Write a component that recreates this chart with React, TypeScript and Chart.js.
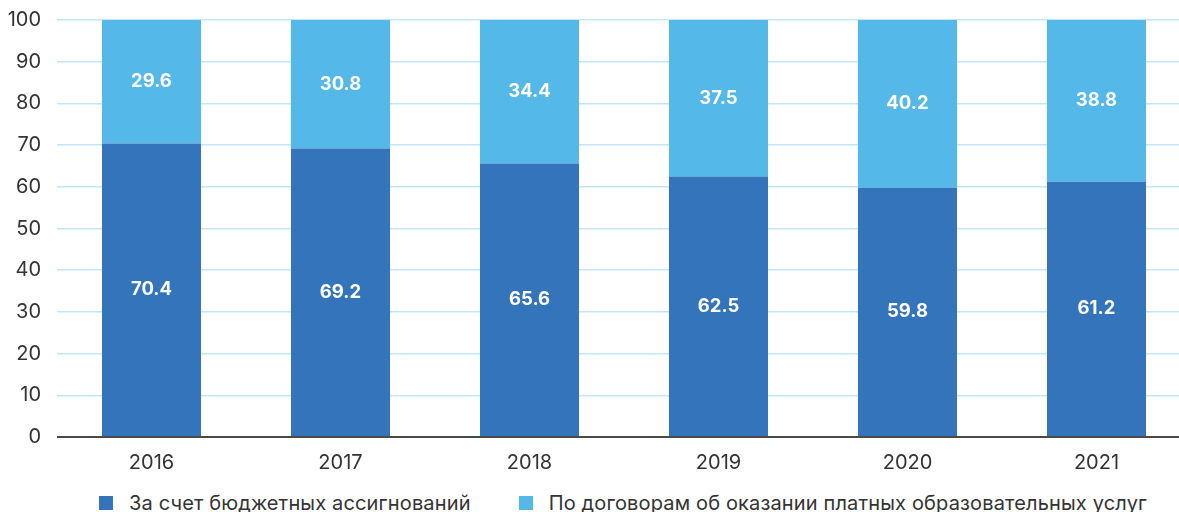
import React, { useEffect, useRef } from "react";
import { Chart, registerables } from "chart.js";

Chart.register(...registerables);

const categories = ["2016", "2017", "2018", "2019", "2020", "2021"];
const budgetValues = [70.4, 69.2, 65.6, 62.5, 59.8, 61.2];
const paidValues = [29.6, 30.8, 34.4, 37.5, 40.2, 38.8];
const seriesNames = [
  "За счет бюджетных ассигнований",
  "По договорам об оказании платных образовательных услуг",
];
const seriesColors = ["#3474BA", "#54B8E8"];

const FONT = "Inter, 'Noto Sans', sans-serif";

const valueLabels = {
  id: "valueLabels",
  afterDatasetsDraw(chart: any) {
    const ctx = chart.ctx;
    ctx.save();
    ctx.fillStyle = "#ffffff";
    ctx.font = `700 18.5px ${FONT}`;
    ctx.textAlign = "center";
    ctx.textBaseline = "middle";
    chart.data.datasets.forEach((ds: any, di: number) => {
      const meta = chart.getDatasetMeta(di);
      meta.data.forEach((el: any, i: number) => {
        const v = ds.data[i];
        const cy = (el.y + el.base) / 2;
        ctx.fillText(v.toFixed(1), el.x, cy);
      });
    });
    ctx.restore();
  },
};

export default function App() {
  const ref = useRef<HTMLCanvasElement>(null);
  useEffect(() => {
    const chart = new Chart(ref.current!, {
      type: "bar",
      data: {
        labels: categories,
        datasets: [
          {
            label: seriesNames[0],
            data: budgetValues,
            backgroundColor: seriesColors[0],
            barPercentage: 0.655,
            categoryPercentage: 0.8,
          },
          {
            label: seriesNames[1],
            data: paidValues,
            backgroundColor: seriesColors[1],
            barPercentage: 0.655,
            categoryPercentage: 0.8,
          },
        ],
      },
      options: {
        animation: false,
        responsive: true,
        maintainAspectRatio: false,
        layout: { padding: { top: 13, left: 0, right: 0, bottom: 0 } },
        plugins: {
          legend: { display: false },
          tooltip: { enabled: false },
        },
        scales: {
          x: {
            stacked: true,
            grid: { display: false, drawTicks: false },
            border: { display: false },
            ticks: {
              color: "#333333",
              font: { family: FONT, size: 20 },
              padding: 14,
            },
          },
          y: {
            stacked: true,
            min: 0,
            max: 100,
            afterFit: (s: any) => {
              s.width = 57;
            },
            ticks: {
              stepSize: 10,
              color: "#333333",
              font: { family: FONT, size: 20 },
              padding: 16,
            },
            border: { display: false },
            grid: {
              drawTicks: false,
              color: (c: any) => (c.tick && c.tick.value === 0 ? "#4a4a4a" : "#c4e6f6"),
              lineWidth: (c: any) => (c.tick && c.tick.value === 0 ? 2 : 1.5),
            },
          },
        },
      },
      plugins: [valueLabels],
    });
    return () => chart.destroy();
  }, []);

  const legendItem = (name: string, color: string) => (
    <div style={{ display: "flex", alignItems: "center" }}>
      <div style={{ width: 14, height: 14, background: color, marginRight: 16 }} />
      <span>{name}</span>
    </div>
  );

  return (
    <div
      style={{
        position: "fixed",
        left: 0,
        top: 0,
        width: 1179,
        height: 512,
        overflow: "hidden",
        background: "#ffffff",
      }}
    >
      <div style={{ position: "absolute", left: 0, top: -8, width: 1191, height: 497 }}>
        <canvas ref={ref} />
      </div>
      <div
        style={{
          position: "absolute",
          left: 99,
          top: 491,
          display: "flex",
          gap: 48,
          fontFamily: FONT,
          fontSize: 20,
          letterSpacing: 0.15,
          color: "#333333",
          whiteSpace: "nowrap",
          lineHeight: "24px",
        }}
      >
        {legendItem(seriesNames[0], seriesColors[0])}
        {legendItem(seriesNames[1], seriesColors[1])}
      </div>
    </div>
  );
}
